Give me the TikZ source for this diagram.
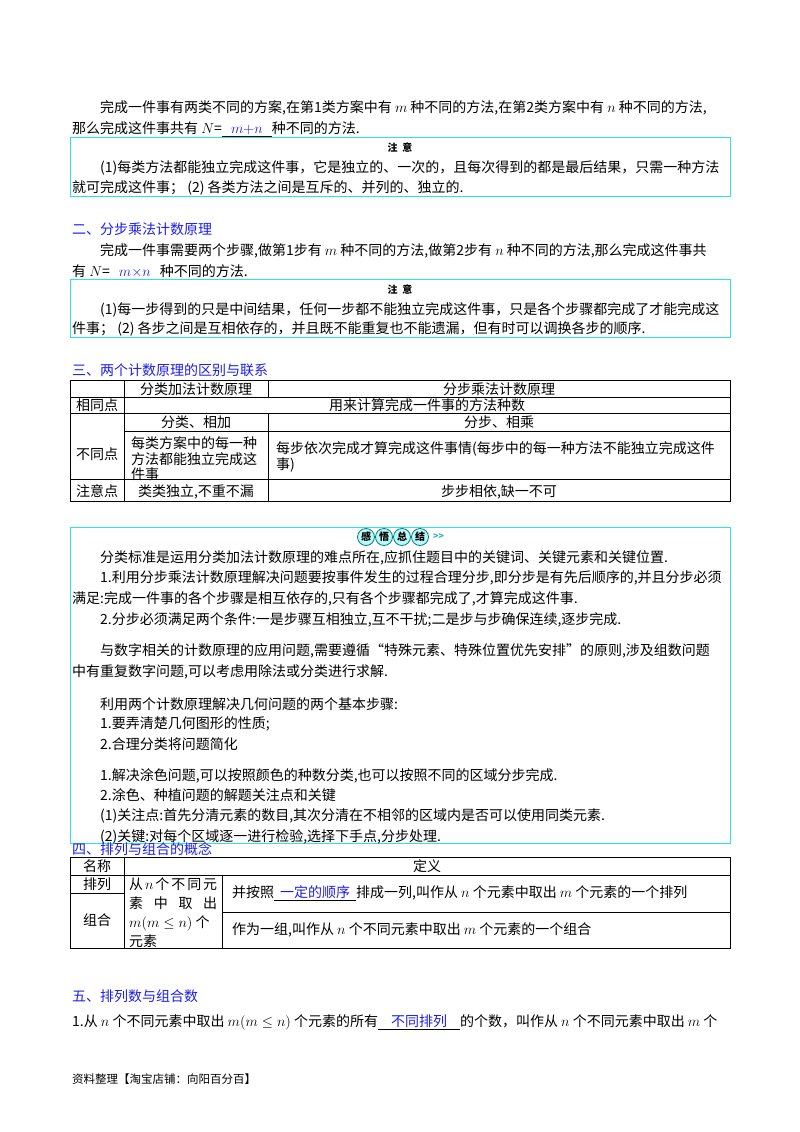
\documentclass[tikz,border=0pt]{standalone}
\usepackage{fontspec}
\setmainfont{Noto Sans CJK SC}
\usepackage{amsmath}
\begin{document}
\begin{tikzpicture}[x=1pt,y=-1pt,
  tx/.style={anchor=base west,inner sep=0pt,font=\fontsize{14}{15}\selectfont},
  tc/.style={anchor=base,inner sep=0pt,font=\fontsize{14}{15}\selectfont},
  hd/.style={anchor=base west,inner sep=0pt,font=\fontsize{14}{16}\selectfont,text=hblue},
  cbox/.style={draw=cy,line width=1pt},
  tb/.style={draw=black,line width=0.8pt},
  note/.style={anchor=base,inner sep=0pt,font=\fontsize{10}{12}\selectfont\bfseries}]
\definecolor{cy}{RGB}{40,230,230}
\definecolor{hblue}{RGB}{30,30,235}
\newcommand{\ub}[2]{\underline{\makebox[#1pt]{\color{hblue}#2}}}
\useasboundingbox (0,0) rectangle (800,1132);
\fill[white] (0,0) rectangle (800,1132);
% part 1
\node[tx] (a1) at (100,112) {完成一件事有两类不同的方案,在第1类方案中有 $m$ 种不同的方法,在第2类方案中有 $n$ 种不同的方法,};
\node[tx] (a2) at (72,133) {那么完成这件事共有 $N$=\ub{50}{$m{+}n$}种不同的方法.};
\draw[cbox] (70,137) rectangle (730,196);
\node[note] (n1) at (400,151) {注\ \ 意};
\node[tx] (a3) at (100,172) {(1)每类方法都能独立完成这件事，它是独立的、一次的，且每次得到的都是最后结果，只需一种方法};
\node[tx] (a4) at (72,192) {就可完成这件事；\ (2) 各类方法之间是互斥的、并列的、独立的.};
% part 2
\node[hd] (h2) at (72,234) {二、分步乘法计数原理};
\node[tx] (b1) at (100,255) {完成一件事需要两个步骤,做第1步有 $m$ 种不同的方法,做第2步有 $n$ 种不同的方法,那么完成这件事共};
\node[tx] (b2) at (72,276) {有 $N$=\ub{50}{$m{\times}n$}种不同的方法.};
\draw[cbox] (70,279) rectangle (730,337);
\node[note] (n2) at (400,293) {注\ \ 意};
\node[tx] (b3) at (100,314) {(1)每一步得到的只是中间结果，任何一步都不能独立完成这件事，只是各个步骤都完成了才能完成这};
\node[tx] (b4) at (72,333) {件事；\ (2) 各步之间是互相依存的，并且既不能重复也不能遗漏，但有时可以调换各步的顺序.};
% part 3
\node[hd] (h3) at (72,375) {三、两个计数原理的区别与联系};
\draw[tb] (70,380) rectangle (730,501);
\draw[tb] (70,397) -- (730,397) (70,413) -- (730,413) (70,479) -- (730,479)
  (124,380) -- (124,501) (268,380) -- (268,397) (268,413) -- (268,501) (124,431) -- (730,431);
\node[tc] (c1) at (196,394) {分类加法计数原理};
\node[tc] (c2) at (499,394) {分步乘法计数原理};
\node[tc] (c3) at (97,410) {相同点};
\node[tc] (c4) at (427,410) {用来计算完成一件事的方法种数};
\node[tc] (c5) at (196,427) {分类、相加};
\node[tc] (c6) at (499,427) {分步、相乘};
\node[tc] (c7) at (97,459) {不同点};
\node[tx] (c8) at (131,448) {每类方案中的每一种};
\node[tx] (c9) at (131,464) {方法都能独立完成这};
\node[tx] (c10) at (131,479) {件事};
\node[tx] (c11) at (276,453) {每步依次完成才算完成这件事情(每步中的每一种方法不能独立完成这件};
\node[tx] (c12) at (276,469) {事)};
\node[tc] (c13) at (97,496) {注意点};
\node[tc] (c14) at (196,496) {类类独立,不重不漏};
\node[tc] (c15) at (499,496) {步步相依,缺一不可};
% summary box
\draw[cbox] (70,527) rectangle (730,843);
\foreach \i/\c in {0/感,1/悟,2/总,3/结}{
  \filldraw[draw=teal,line width=0.8pt,fill=cy!30] (366+\i*18,537) circle (8.5);
  \node[font=\fontsize{10}{12}\selectfont\bfseries,inner sep=0pt] (g\i) at (366+\i*18,537) {\c};}
\node[anchor=west,inner sep=0pt,font=\fontsize{9}{10}\selectfont\bfseries,text=cy!80!black] (gg) at (433,537) {>{}>};
\node[tx] (s1) at (100,562) {分类标准是运用分类加法计数原理的难点所在,应抓住题目中的关键词、关键元素和关键位置.};
\node[tx] (s2) at (100,582) {1.利用分步乘法计数原理解决问题要按事件发生的过程合理分步,即分步是有先后顺序的,并且分步必须};
\node[tx] (s3) at (72,603) {满足:完成一件事的各个步骤是相互依存的,只有各个步骤都完成了,才算完成这件事.};
\node[tx] (s4) at (100,624) {2.分步必须满足两个条件:一是步骤互相独立,互不干扰;二是步与步确保连续,逐步完成.};
\node[tx] (s5) at (100,655) {与数字相关的计数原理的应用问题,需要遵循“特殊元素、特殊位置优先安排”的原则,涉及组数问题};
\node[tx] (s6) at (72,676) {中有重复数字问题,可以考虑用除法或分类进行求解.};
\node[tx] (s7) at (100,709) {利用两个计数原理解决几何问题的两个基本步骤:};
\node[tx] (s8) at (100,728) {1.要弄清楚几何图形的性质;};
\node[tx] (s9) at (100,749) {2.合理分类将问题简化};
\node[tx] (s10) at (100,780) {1.解决涂色问题,可以按照颜色的种数分类,也可以按照不同的区域分步完成.};
\node[tx] (s11) at (100,800) {2.涂色、种植问题的解题关注点和关键};
\node[tx] (s12) at (100,820) {(1)关注点:首先分清元素的数目,其次分清在不相邻的区域内是否可以使用同类元素.};
\node[tx] (s13) at (100,841) {(2)关键:对每个区域逐一进行检验,选择下手点,分步处理.};
% part 4
\node[hd] (h4) at (72,854) {四、排列与组合的概念};
\draw[tb] (70,857) rectangle (730,948);
\draw[tb] (70,875) -- (730,875) (124,857) -- (124,948) (222,875) -- (222,948)
  (70,893) -- (124,893) (222,912) -- (730,912);
\node[tc] (d1) at (97,871) {名称};
\node[tc] (d2) at (427,871) {定义};
\node[tc] (d3) at (97,889) {排列};
\node[tc] (d4) at (97,925) {组合};
\node[tx] (d5) at (129,889) {\makebox[88pt][s]{从\hfill{}$n$\hfill{}个\hfill{}不\hfill{}同\hfill{}元}};
\node[tx] (d6) at (129,908) {\makebox[88pt][s]{素\hfill{}中\hfill{}取\hfill{}出}};
\node[tx] (d7) at (129,927) {$m(m\le n)$\ 个};
\node[tx] (d8) at (129,946) {元素};
\node[tx] (d9) at (232,897) {并按照\ub{82}{一定的顺序}排成一列,叫作从 $n$ 个元素中取出 $m$ 个元素的一个排列};
\node[tx] (d10) at (232,934) {作为一组,叫作从 $n$ 个不同元素中取出 $m$ 个元素的一个组合};
% part 5
\node[hd] (h5) at (72,1001) {五、排列数与组合数};
\node[tx] (e1) at (72,1026) {1.从 $n$ 个不同元素中取出 $m(m\le n)$ 个元素的所有\ub{82}{不同排列}的个数，叫作从 $n$ 个不同元素中取出 $m$ 个};
\node[tx,font=\fontsize{11.5}{13}\selectfont] (f1) at (72,1083) {资料整理【淘宝店铺：向阳百分百】};
\end{tikzpicture}
\end{document}
